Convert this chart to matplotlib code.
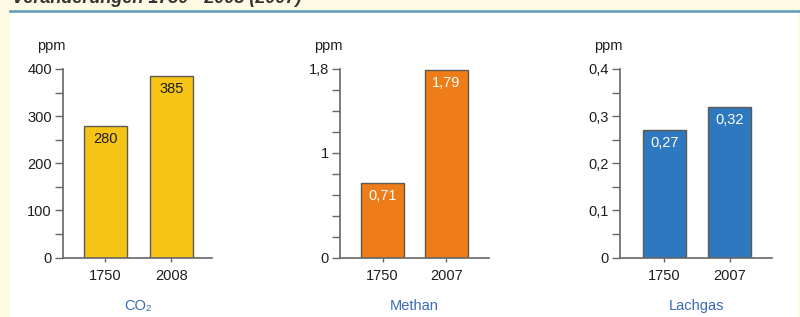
import matplotlib.pyplot as plt
from matplotlib.patches import Rectangle
from matplotlib.lines import Line2D

# data
years_co2 = ['1750', '2008']
years_ch4 = ['1750', '2007']
years_n2o = ['1750', '2007']
co2 = [280, 385]
ch4 = [0.71, 1.79]
n2o = [0.27, 0.32]
co2_labels = ['280', '385']
ch4_labels = ['0,71', '1,79']
n2o_labels = ['0,27', '0,32']
gases = ['CO\u2082', 'Methan', 'Lachgas']

plt.rcParams['font.family'] = ['Liberation Sans', 'DejaVu Sans']

W, H = 800, 317
fig = plt.figure(figsize=(8, 3.17), dpi=100, facecolor='#fdf9e2')

# white panel + blue rule, title cut off at the top (as in the source)
fig.patches.append(Rectangle((10 / W, 0), 788 / W, 1 - 12 / H, transform=fig.transFigure,
                             facecolor='white', edgecolor='none', zorder=-5))
fig.lines.append(Line2D([10 / W, 1], [1 - 11 / H, 1 - 11 / H], transform=fig.transFigure,
                        color='#5d9ab3', lw=1.8, zorder=-4))
fig.text(12 / W, 1 - 3 / H, 'Veränderungen 1750 - 2008 (2007)', fontsize=13,
         fontweight='bold', fontstyle='italic', color='#333333', va='baseline', zorder=-4)

y_bot = 1 - 257.5 / H
y_h = (257.5 - 69) / H

panels = [
    # values, years, labels, color, text color, left px, right px, xlim, width, ymax, major, minor, tick labels
    (co2, years_co2, co2_labels, '#f5c417', '#1e1e1e', 63, 212, (-0.644, 1.614), 0.65,
     400, [0, 100, 200, 300, 400], [50 * i for i in range(9)], ['0', '100', '200', '300', '400']),
    (ch4, years_ch4, ch4_labels, '#ee7c18', 'white', 340, 489, (-0.672, 1.674), 0.68,
     1.8, [0, 1, 1.8], [0.2 * i for i in range(10)], ['0', '1', '1,8']),
    (n2o, years_n2o, n2o_labels, '#2e78bf', 'white', 620, 771.7, (-0.679, 1.647), 0.66,
     0.4, [0, 0.1, 0.2, 0.3, 0.4], [0.05 * i for i in range(9)], ['0', '0,1', '0,2', '0,3', '0,4']),
]

for i, (vals, yrs, labs, col, tcol, l, r, xl, bw, ymax, major, minor, tlabs) in enumerate(panels):
    ax = fig.add_axes([l / W, y_bot, (r - l) / W, y_h])
    ax.set_facecolor('none')
    x = list(range(len(vals)))
    ax.bar(x, vals, width=bw, color=col, edgecolor='#5e5a50', linewidth=1.0, zorder=2)
    ax.set_xlim(*xl)
    ax.set_ylim(0, ymax)
    for s in ['top', 'right']:
        ax.spines[s].set_visible(False)
    for s in ['left', 'bottom']:
        ax.spines[s].set_color('#666666')
        ax.spines[s].set_linewidth(1.2)
    ax.set_xticks(x)
    ax.set_xticklabels(yrs)
    ax.set_yticks(major)
    ax.set_yticklabels(tlabs)
    ax.set_yticks(minor, minor=True)
    ax.tick_params(axis='y', which='both', direction='out', length=6, width=1,
                   color='#666666', pad=2, labelsize=10.5, labelcolor='#1e1e1e')
    ax.tick_params(axis='x', direction='out', length=3, width=1, color='#666666',
                   pad=5, labelsize=10.5, labelcolor='#1e1e1e')
    for xi, v, t in zip(x, vals, labs):
        ax.annotate(t, (xi, v), xytext=(0, -9.5), textcoords='offset points',
                    ha='center', va='center', fontsize=10.5, color=tcol)
    ax.annotate('ppm', (0, 1), xycoords='axes fraction', xytext=(2, 16.5),
                textcoords='offset points', ha='right', va='center', fontsize=10.5,
                color='#1e1e1e')
    ax.annotate(gases[i], (0.5, 0), xycoords=('data', 'axes fraction'), xytext=(0, -35),
                textcoords='offset points', ha='center', va='center', fontsize=10.5,
                color='#3b6bb5')

fig.savefig('out.png', dpi=100, facecolor=fig.get_facecolor())
